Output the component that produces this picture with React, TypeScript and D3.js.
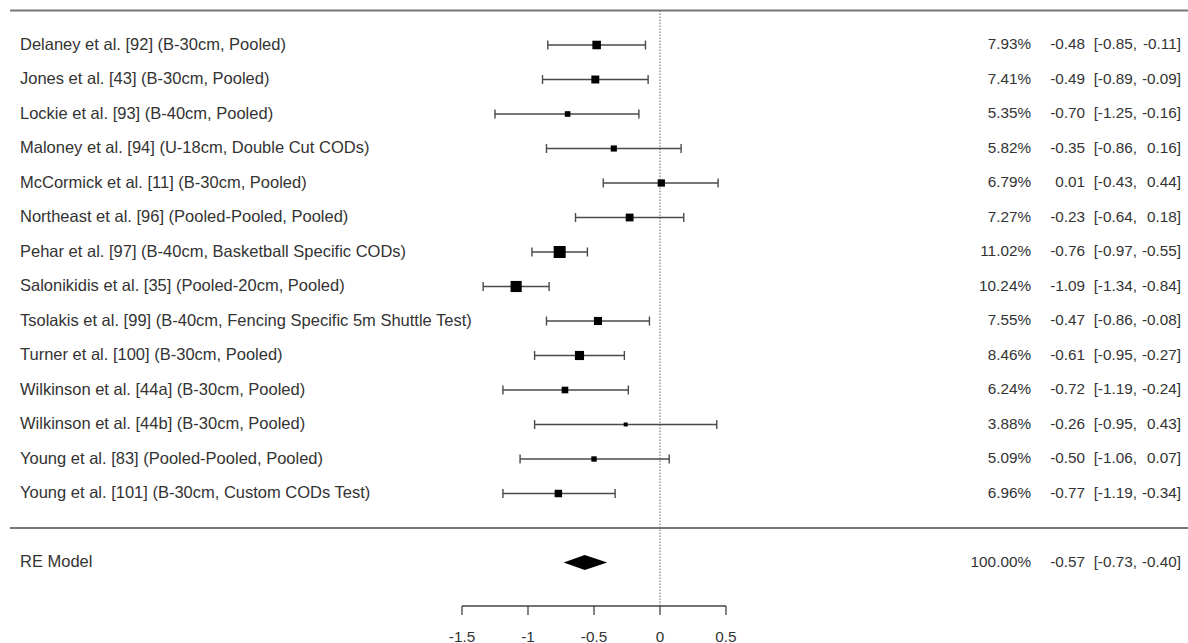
import React from "react";
import * as d3 from "d3";

const studies = [
  "Delaney et al. [92] (B-30cm, Pooled)",
  "Jones et al. [43] (B-30cm, Pooled)",
  "Lockie et al. [93] (B-40cm, Pooled)",
  "Maloney et al. [94] (U-18cm, Double Cut CODs)",
  "McCormick et al. [11] (B-30cm, Pooled)",
  "Northeast et al. [96] (Pooled-Pooled, Pooled)",
  "Pehar et al. [97] (B-40cm, Basketball Specific CODs)",
  "Salonikidis et al. [35] (Pooled-20cm, Pooled)",
  "Tsolakis et al. [99] (B-40cm, Fencing Specific 5m Shuttle Test)",
  "Turner et al. [100] (B-30cm, Pooled)",
  "Wilkinson et al. [44a] (B-30cm, Pooled)",
  "Wilkinson et al. [44b] (B-30cm, Pooled)",
  "Young et al. [83] (Pooled-Pooled, Pooled)",
  "Young et al. [101] (B-30cm, Custom CODs Test)",
];
const weights = [7.93, 7.41, 5.35, 5.82, 6.79, 7.27, 11.02, 10.24, 7.55, 8.46, 6.24, 3.88, 5.09, 6.96];
const estimates = [-0.48, -0.49, -0.7, -0.35, 0.01, -0.23, -0.76, -1.09, -0.47, -0.61, -0.72, -0.26, -0.5, -0.77];
const lowers = [-0.85, -0.89, -1.25, -0.86, -0.43, -0.64, -0.97, -1.34, -0.86, -0.95, -1.19, -0.95, -1.06, -1.19];
const uppers = [-0.11, -0.09, -0.16, 0.16, 0.44, 0.18, -0.55, -0.84, -0.08, -0.27, -0.24, 0.43, 0.07, -0.34];

const summaryLabel = "RE Model";
const summaryWeight = 100.0;
const summaryEst = -0.57;
const summaryLower = -0.73;
const summaryUpper = -0.4;

const xTicks = [-1.5, -1, -0.5, 0, 0.5];

const W = 1188;
const H = 643;
const FONT = "'Liberation Sans', Arial, sans-serif";
const TEXT = "#333";
const LABEL_SIZE = 16.5;
const NUM_SIZE = 15.3;

const fmt2 = d3.format(".2f");
const fmtNum = (v: number) => fmt2(v).replace("\u2212", "-");
const fmtTick = (v: number) => String(v);

export default function App() {
  const x = d3.scaleLinear().domain([-1.5, 0.5]).range([462, 726]);
  const y = d3.scaleLinear().domain([0, 1]).range([45, 79.5]);
  const k = studies.length;
  const size = d3.scaleLinear().domain([d3.min(weights)!, d3.max(weights)!]).range([4, 12]);

  const topLineY = y(-1);
  const sepY = y(k);
  const sumY = y(k + 1);
  const axisY = 606;

  const colW = 1031;
  const colEst = 1085;
  const colLo = 1137;
  const colHi = 1181;

  const rightCols = (yy: number, w: number, e: number, lo: number, hi: number, key: string) => (
    <g key={key} fontFamily={FONT} fontSize={NUM_SIZE} fill={TEXT}>
      <text x={colW} y={yy} textAnchor="end" dominantBaseline="central">{fmt2(w) + "%"}</text>
      <text x={colEst} y={yy} textAnchor="end" dominantBaseline="central">{fmtNum(e)}</text>
      <text x={colLo} y={yy} textAnchor="end" dominantBaseline="central">{"[" + fmtNum(lo) + ","}</text>
      <text x={colHi} y={yy} textAnchor="end" dominantBaseline="central">{fmtNum(hi) + "]"}</text>
    </g>
  );

  const cap = 4.5;
  const ciColor = "#4a4a4a";

  return (
    <svg width={W} height={H} style={{ position: "absolute", left: 0, top: 0, background: "#fff" }}>
      <rect x={0} y={0} width={W} height={H} fill="#fff" />
      <line x1={10} x2={W} y1={topLineY} y2={topLineY} stroke="#777" strokeWidth={2.2} />
      <line x1={10} x2={W} y1={sepY} y2={sepY} stroke="#777" strokeWidth={1.8} />
      <line x1={x(0)} x2={x(0)} y1={topLineY} y2={axisY} stroke="#666" strokeWidth={1} strokeDasharray="1.5,1.5" />

      {studies.map((s, i) => {
        const yy = y(i);
        const sz = size(weights[i]);
        return (
          <g key={s}>
            <text x={20} y={yy - 1.5} fontFamily={FONT} fontSize={LABEL_SIZE} fill={TEXT} dominantBaseline="central">{s}</text>
            <line x1={x(lowers[i])} x2={x(uppers[i])} y1={yy} y2={yy} stroke={ciColor} strokeWidth={1.4} />
            <line x1={x(lowers[i])} x2={x(lowers[i])} y1={yy - cap} y2={yy + cap} stroke={ciColor} strokeWidth={1.4} />
            <line x1={x(uppers[i])} x2={x(uppers[i])} y1={yy - cap} y2={yy + cap} stroke={ciColor} strokeWidth={1.4} />
            <rect x={x(estimates[i]) - sz / 2} y={yy - sz / 2} width={sz} height={sz} fill="#000" />
            {rightCols(yy - 1.5, weights[i], estimates[i], lowers[i], uppers[i], s + "-r")}
          </g>
        );
      })}

      <text x={20} y={sumY - 1.5} fontFamily={FONT} fontSize={LABEL_SIZE} fill={TEXT} dominantBaseline="central">{summaryLabel}</text>
      <polygon
        points={[
          [x(summaryLower), sumY],
          [x(summaryEst), sumY - 7.5],
          [x(summaryUpper), sumY],
          [x(summaryEst), sumY + 7.5],
        ].map((p) => p.join(",")).join(" ")}
        fill="#000"
      />
      {rightCols(sumY - 1.5, summaryWeight, summaryEst, summaryLower, summaryUpper, "sum-r")}

      <g>
        <line x1={x(xTicks[0])} x2={x(xTicks[xTicks.length - 1])} y1={axisY} y2={axisY} stroke="#444" strokeWidth={1.3} />
        {xTicks.map((t) => (
          <g key={t}>
            <line x1={x(t)} x2={x(t)} y1={axisY} y2={axisY + 9} stroke="#444" strokeWidth={1.3} />
            <text x={x(t)} y={axisY + 30} textAnchor="middle" fontFamily={FONT} fontSize={NUM_SIZE} fill={TEXT} dominantBaseline="central">{fmtTick(t)}</text>
          </g>
        ))}
      </g>
    </svg>
  );
}
